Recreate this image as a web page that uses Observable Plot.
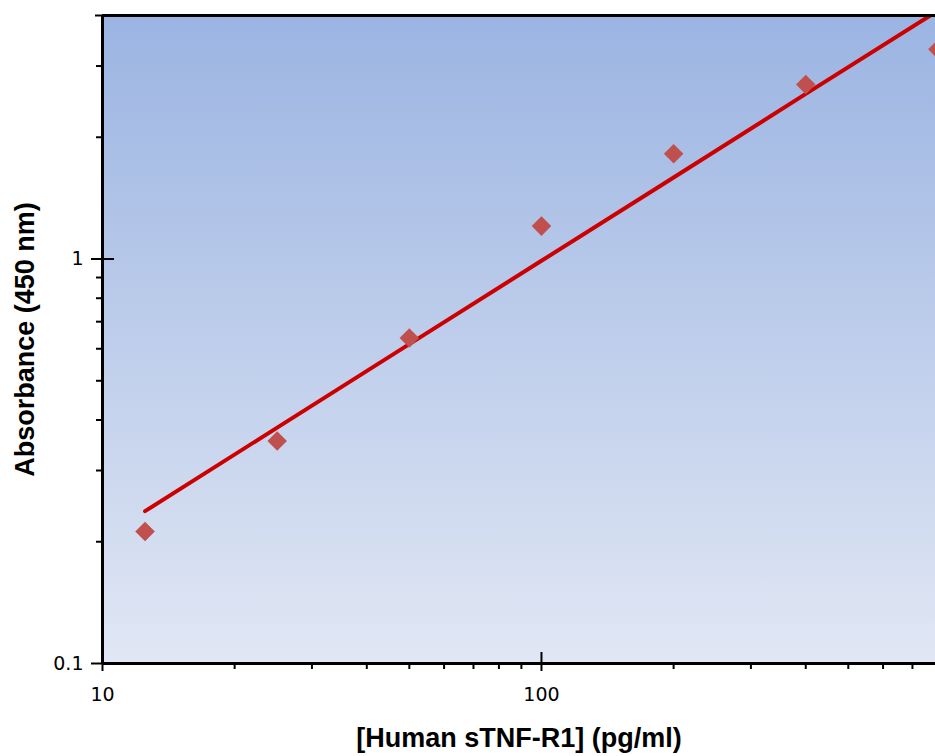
<!DOCTYPE html>
<html>
<head>
<meta charset="utf-8">
<script src="https://cdn.jsdelivr.net/npm/d3@7"></script>
<script src="https://cdn.jsdelivr.net/npm/@observablehq/plot@0.6"></script>
<style>
  html, body { margin: 0; padding: 0; background: #fff; }
</style>
</head>
<body>
<div id="chart"></div>
<script>
// Data
const concentration = [12.5, 25, 50, 100, 200, 400, 800];      // pg/ml
const absorbance    = [0.212, 0.355, 0.638, 1.206, 1.82, 2.70, 3.30]; // OD 450 nm
const fitAbsorbance = [0.238, 0.383, 0.616, 0.99, 1.59, 2.56, 4.11];  // fitted curve

const xMajorTicks = [10, 100];
const xMinorTicks = [20, 30, 40, 50, 60, 70, 80, 90, 200, 300, 400, 500, 600, 700];
const yMajorTicks = [0.1, 1];
const yMinorTicks = [0.2, 0.3, 0.4, 0.5, 0.6, 0.7, 0.8, 0.9, 2, 3];
const yTopTick = [4];

const xTitle = "[Human sTNF-R1] (pg/ml)";
const yTitle = "Absorbance (450 nm)";

const points = concentration.map((c, i) => ({c, a: absorbance[i]}));
const fit = concentration.map((c, i) => ({c, a: fitAbsorbance[i]}));

const tickFont = "DejaVu Sans";
const titleFont = "Liberation Sans, Arial, sans-serif";
const noLabel = () => "";

const defs = () => {
  const d = d3.create("svg:defs");
  const g = d.append("linearGradient").attr("id", "bg")
    .attr("x1", 0).attr("y1", 0).attr("x2", 0).attr("y2", 1);
  g.append("stop").attr("offset", "0%").attr("stop-color", "#9bb4e2");
  g.append("stop").attr("offset", "100%").attr("stop-color", "#e1e7f4");
  return d.node();
};

const chart = Plot.plot({
  width: 935,
  height: 756,
  marginTop: 15,
  marginLeft: 102,
  marginRight: 0,
  marginBottom: 93,
  style: {background: "#fff", color: "#000"},
  x: {type: "log", domain: [10, 790]},
  y: {type: "log", domain: [0.1, 4]},
  marks: [
    defs,
    Plot.frame({fill: "url(#bg)", stroke: "none"}),
    // fitted line
    Plot.line(fit, {x: "c", y: "a", stroke: "#cc0000", strokeWidth: 4, clip: true}),
    // data points
    Plot.dot(points, {x: "c", y: "a", symbol: "diamond2", r: 8.8, fill: "#c0504d", stroke: "none", clip: true}),
    // y axis
    Plot.axisY(yMajorTicks, {tickSize: 11, tickPadding: 8, tickFormat: d => String(d),
      fontSize: 19, fontFamily: tickFont, label: null, strokeWidth: 2}),
    Plot.axisY(yMinorTicks, {tickSize: 6, tickFormat: noLabel, label: null, strokeWidth: 2}),
    Plot.axisY(yTopTick, {tickSize: 7, tickFormat: noLabel, label: null, strokeWidth: 2}),
    Plot.axisY([1], {tickSize: -12, tickFormat: noLabel, label: null, strokeWidth: 2}),
    // x axis
    Plot.axisX(xMajorTicks, {tickSize: 8, tickPadding: 16, tickFormat: d => String(d),
      fontSize: 19, fontFamily: tickFont, label: null, strokeWidth: 2}),
    Plot.axisX(xMinorTicks, {tickSize: 6, tickFormat: noLabel, label: null, strokeWidth: 2}),
    Plot.axisX([100], {tickSize: -11, tickFormat: noLabel, label: null, strokeWidth: 2}),
    // axis lines and top border
    Plot.ruleX([10], {stroke: "#000", strokeWidth: 3}),
    Plot.ruleY([0.1], {stroke: "#000", strokeWidth: 3}),
    Plot.ruleY([4], {stroke: "#000", strokeWidth: 3}),
    // titles
    Plot.text([yTitle], {frameAnchor: "left", dx: -77, rotate: -90, text: d => d, textAnchor: "middle",
      fontSize: 27, fontWeight: "bold", fontFamily: titleFont, lineAnchor: "middle", fill: "#000"}),
    Plot.text([xTitle], {frameAnchor: "bottom", dy: 75, text: d => d, textAnchor: "middle",
      fontSize: 27, fontWeight: "bold", fontFamily: titleFont, lineAnchor: "middle", fill: "#000"})
  ]
});

document.getElementById("chart").appendChild(chart);
</script>
</body>
</html>
